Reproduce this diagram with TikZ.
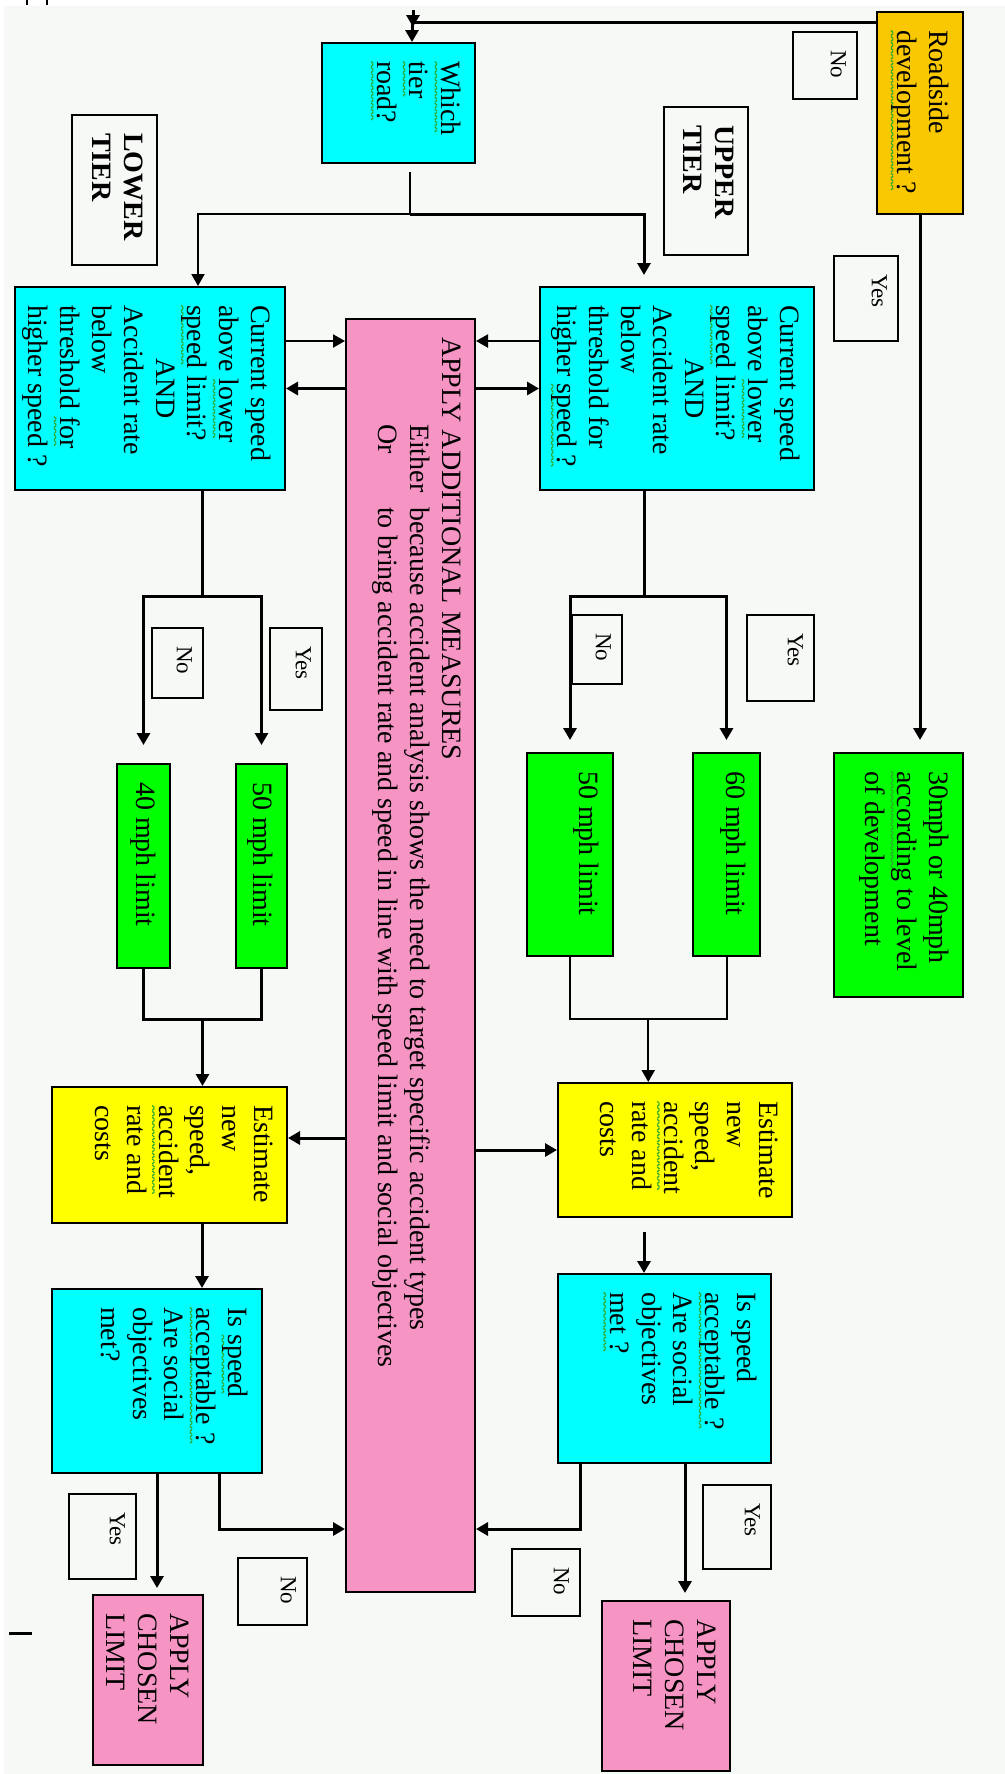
\documentclass[tikz,border=0pt]{standalone}
\usepackage{fontspec}
\setmainfont{Liberation Serif}
\usetikzlibrary{arrows.meta, calc}
\definecolor{BoxCyan}{HTML}{00FFFF}
\definecolor{BoxGreen}{HTML}{00FF00}
\definecolor{BoxYellow}{HTML}{FFFF00}
\definecolor{BoxGold}{HTML}{F9C800}
\definecolor{BoxPink}{HTML}{F694C4}
\definecolor{PageTint}{HTML}{F6F9F6}
\definecolor{SquigGreen}{HTML}{2EA82E}
% text block of a box: width, height, lines
\newcommand{\boxtext}[3]{\parbox[c][#2][t]{#1}{#3}}
% green wavy underline
\newsavebox{\sqbox}
\newcommand{\zigpiece}{\rotatebox{45}{\rule{1.5pt}{0.6pt}}\raisebox{1.06pt}{\rotatebox{-45}{\rule{1.5pt}{0.6pt}}}}
\newcommand{\sq}[1]{\leavevmode\sbox{\sqbox}{#1}\rlap{\lower3.6pt\hbox to\wd\sqbox{\color{SquigGreen}\leaders\hbox{\zigpiece}\hfill}}\usebox{\sqbox}}
\tikzset{
  flowbox/.style={draw=black, line width=1pt, anchor=north west, inner xsep=9pt, inner ysep=7pt, font=\fontsize{14}{15.9}\selectfont},
  cyanbox/.style={flowbox, fill=BoxCyan},
  greenbox/.style={flowbox, fill=BoxGreen},
  yellowbox/.style={flowbox, fill=BoxYellow},
  goldbox/.style={flowbox, fill=BoxGold},
  pinkbox/.style={flowbox, fill=BoxPink},
  tierbox/.style={flowbox, font=\fontsize{14}{15.9}\selectfont\bfseries},
  tagbox/.style={draw=black, line width=1pt, anchor=north west, inner xsep=9pt, inner ysep=5.5pt, font=\fontsize{11.5}{13.5}\selectfont},
  arrow/.style={-{Triangle[length=6pt, width=6.5pt]}, line width=1.5pt},
  thinarrow/.style={-{Triangle[length=6pt, width=6.5pt]}, line width=1pt},
  wire/.style={line width=1.5pt},
  thinwire/.style={line width=1pt}
}

\begin{document}
\begin{tikzpicture}[x=0.5pt, y=0.5pt]
\begin{scope}[rotate=-90, transform shape]
\useasboundingbox (0,0) rectangle (1774,1005);
\fill[PageTint] (6,4) rectangle (1774,1005);

% first decisions
\node[goldbox] (road) at (11,964) {\boxtext{83pt}{29pt}{Roadside\\ \sq{development~?}}};
\node[cyanbox] (tier) at (42,476) {\boxtext{42pt}{62.5pt}{\sq{Which}\\ \sq{tier}\\ \sq{road?}}};
\node[tagbox] (nodev) at (31,858) {\boxtext{15.5pt}{21pt}{No}};
\node[tagbox] (yesdev) at (255,899) {\boxtext{24.5pt}{21pt}{Yes}};
\node[tierbox] (uppertier) at (106,749) {\boxtext{56pt}{28pt}{UPPER\\ TIER}};
\node[tierbox] (lowertier) at (114,158) {\boxtext{57pt}{28.5pt}{LOWER\\ TIER}};

% speed and accident checks
\node[cyanbox] (upcheck) at (286,815) {\boxtext{83.5pt}{123pt}{Current speed\\ above \sq{lower}\\ \sq{speed} limit?\\ \hspace*{\fill}AND\hspace*{\fill}\\ Accident rate\\ below\\ threshold for\\ higher \sq{speed~?}}};
\node[cyanbox] (locheck) at (286,286) {\boxtext{83.5pt}{121pt}{Current speed\\ above \sq{lower}\\ \sq{speed} limit?\\ \hspace*{\fill}AND\hspace*{\fill}\\ Accident rate\\ below\\ threshold \sq{for}\\ higher speed ?}};
\node[pinkbox] (measures) at (318,476) {\boxtext{618.5pt}{50.5pt}{APPLY ADDITIONAL MEASURES\\ \hspace*{43.5pt}\makebox[41.5pt][l]{Either}because accident analysis shows the need to target specific accident types\\ \hspace*{43.5pt}\makebox[41.5pt][l]{Or}to bring accident rate and speed in line with speed limit and social objectives}};
\node[tagbox] (upyes) at (614,815) {\boxtext{25pt}{22.5pt}{Yes}};
\node[tagbox] (upno) at (614,623) {\boxtext{16.5pt}{14pt}{No}};
\node[tagbox] (loyes) at (627,323) {\boxtext{23pt}{15pt}{Yes}};
\node[tagbox] (lono) at (627,204) {\boxtext{17pt}{14.5pt}{No}};

% limits
\node[greenbox] (dev) at (752,964) {\boxtext{104pt}{50.5pt}{30mph~or~40mph\\ \sq{according} to level\\ of development}};
\node[greenbox] (up60) at (752,761) {\boxtext{83.5pt}{19.5pt}{60 mph limit}};
\node[greenbox] (up50) at (752,614) {\boxtext{83.5pt}{29pt}{50 mph limit}};
\node[greenbox] (lo50) at (763,288) {\boxtext{84pt}{11.5pt}{50 mph limit}};
\node[greenbox] (lo40) at (763,171) {\boxtext{84pt}{12.5pt}{40 mph limit}};

% estimates and final checks
\node[yellowbox] (upest) at (1082,793) {\boxtext{49pt}{103pt}{Estimate\\ new\\ speed,\\ \sq{accident}\\ rate and\\ costs}};
\node[yellowbox] (loest) at (1086,288) {\boxtext{50pt}{103.5pt}{Estimate\\ new\\ speed,\\ \sq{accident}\\ rate and\\ costs}};
\node[cyanbox] (upok) at (1273,772) {\boxtext{76.5pt}{92.5pt}{Is speed\\ \sq{acceptable~?}\\ Are social\\ objectives\\ \sq{met~?}}};
\node[cyanbox] (look) at (1288,263) {\boxtext{74pt}{91pt}{Is \sq{speed}\\ \sq{acceptable~?}\\ Are social\\ objectives\\ met?}};
\node[tagbox] (upyes2) at (1484,772) {\boxtext{24pt}{23pt}{Yes}};
\node[tagbox] (upno2) at (1548,581) {\boxtext{15.5pt}{23pt}{No}};
\node[tagbox] (loyes2) at (1493,137) {\boxtext{24.5pt}{22.5pt}{Yes}};
\node[tagbox] (lono2) at (1557,308) {\boxtext{15.5pt}{23.5pt}{No}};
\node[pinkbox] (upapply) at (1600,731) {\boxtext{67pt}{50pt}{APPLY\\ CHOSEN\\ LIMIT}};
\node[pinkbox] (loapply) at (1594,204) {\boxtext{67pt}{41pt}{APPLY\\ CHOSEN\\ LIMIT}};

% connectors
\coordinate (entry) at (10,413);
\draw[arrow] (entry) -- ++(17,0);
\draw[arrow] ($(road.south west)+(11,0)$) |- ($(tier.west)+(0,13.5)$);
\draw[arrow, shorten >=6pt] (road.east) -- (road.east -| dev.west);
\draw[thinwire] ($(tier.east)+(8,11.5)$) -- ++(42,0) coordinate (split);
\draw[thinarrow] (split) |- ($(locheck.west)+(0,48)$);
\draw[arrow, shorten >=5.5pt] (split) |- ($(upcheck.west)+(0,-33)$);

\draw[thinarrow] ($(upcheck.south)+(-47.5,0)$) coordinate (p1) -- (p1 |- measures.north);
\draw[arrow] (upcheck.south |- measures.north) -- (upcheck.south);
\draw[thinarrow] ($(locheck.north)+(-47.5,0)$) coordinate (p2) -- (p2 |- measures.south);
\draw[arrow] (locheck.north |- measures.south) -- (locheck.north);

\draw[wire] ($(upcheck.east)+(0,-33)$) -- ++(105,0) coordinate (upsplit);
\draw[arrow, shorten >=6pt] (upsplit) |- (up60.west);
\draw[arrow, shorten >=6pt] (upsplit) |- (up50.west);
\draw[wire] ($(locheck.east)+(0,52)$) -- ++(105,0) coordinate (losplit);
\draw[arrow, shorten >=9pt] (losplit) |- (lo50.west);
\draw[arrow, shorten >=9pt] (losplit) |- (lo40.west);

\draw[thinwire] (up50.east) -- ++(62,0) -- ($(up60.east)+(62,0)$) -- (up60.east);
\coordinate (upjoin) at ($(up50.east)!0.5!(up60.east)+(62,0)$);
\draw[thinarrow] (upjoin) -- (upjoin -| upest.west);
\draw[wire] (lo40.east) -- ++(50,0) -- ($(lo50.east)+(50,0)$) -- (lo50.east);
\coordinate (lojoin) at ($(lo40.east)!0.5!(lo50.east)+(50,0)$);
\draw[arrow] (lojoin) -- (lojoin -| loest.west);

\draw[arrow] (upest.south |- measures.north) -- (upest.south);
\coordinate (p3) at ($(loest.north)+(-17,0)$);
\draw[arrow] (p3 |- measures.south) -- (p3);

\draw[arrow, shorten <=7pt] ($(upest.east)+(0,-31)$) coordinate (p4) -- (p4 -| upok.west);
\draw[arrow] ($(loest.east)+(0,32.5)$) coordinate (p5) -- (p5 -| look.west);

\draw[arrow, shorten >=3.5pt] ($(upok.east)+(0,20.5)$) coordinate (p6) -- (p6 -| upapply.west);
\draw[arrow, shorten >=3pt] (look.east) -- (look.east -| loapply.west);
\draw[arrow] ($(upok.east)+(0,-84.5)$) -- ++(65,0) coordinate (p7) -- (p7 |- measures.north);
\draw[arrow] ($(look.east)+(0,62)$) -- ++(55,0) coordinate (p8) -- (p8 |- measures.south);

% stray marks
\draw[line width=1.5pt] (1633,9) -- (1633,32);
\draw[line width=0.8pt] (0,27) -- (5,27) (0,47) -- (5,47);
\end{scope}
\end{tikzpicture}
\end{document}
